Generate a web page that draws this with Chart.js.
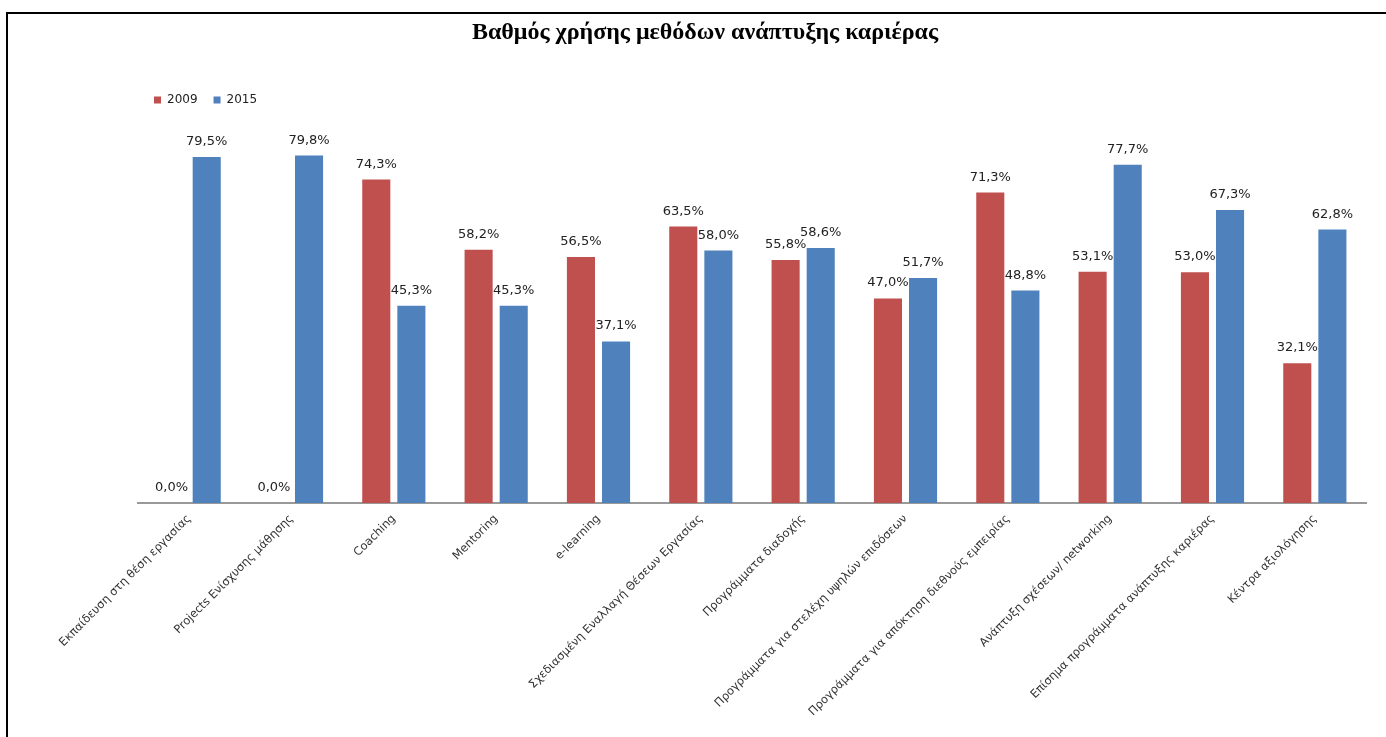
<!DOCTYPE html>
<html>
<head>
<meta charset="utf-8">
<script src="https://cdn.jsdelivr.net/npm/chart.js@4"></script>
<style>
  html, body { margin: 0; padding: 0; background: #fff; }
  #wrap { position: relative; width: 1386px; height: 737px; }
  #frame { position: absolute; left: 6px; top: 12px; width: 1400px; height: 800px;
           border-top: 2px solid #000; border-left: 2px solid #000; pointer-events: none; }
</style>
</head>
<body>
<div id="wrap">
  <canvas id="chart" width="1386" height="737"></canvas>
  <div id="frame"></div>
</div>
<script>
var chartTitle = 'Βαθμός χρήσης μεθόδων ανάπτυξης καριέρας';
var categories = [
    'Εκπαίδευση στη θέση εργασίας',
    'Projects Ενίσχυσης μάθησης',
    'Coaching',
    'Mentoring',
    'e-learning',
    'Σχεδιασμένη Εναλλαγή Θέσεων Εργασίας',
    'Προγράμματα διαδοχής',
    'Προγράμματα για στελέχη υψηλών επιδόσεων',
    'Προγράμματα για απόκτηση διεθνούς εμπειρίας',
    'Ανάπτυξη σχέσεων/ networking',
    'Επίσημα προγράμματα ανάπτυξης καριέρας',
    'Κέντρα αξιολόγησης'
];
var values2009 = [0.0, 0.0, 74.3, 58.2, 56.5, 63.5, 55.8, 47.0, 71.3, 53.1, 53.0, 32.1];
var values2015 = [79.5, 79.8, 45.3, 45.3, 37.1, 58.0, 58.6, 51.7, 48.8, 77.7, 67.3, 62.8];

// titre centré sur le cadre, pas sur la zone du graphique
var titlePlugin = {
    id: 'titlePlugin',
    afterDraw: function(chart) {
        var ctx = chart.ctx;
        ctx.save();
        ctx.font = 'bold 24px "Liberation Serif"';
        ctx.fillStyle = '#000';
        ctx.textAlign = 'center';
        ctx.textBaseline = 'middle';
        ctx.fillText(chartTitle, chart.width / 2 + 12, 33);
        ctx.restore();
    }
};

// étiquettes de valeur au-dessus des barres (virgule décimale)
var valueLabels = {
    id: 'valueLabels',
    afterDatasetsDraw: function(chart) {
        var ctx = chart.ctx;
        ctx.save();
        ctx.font = '13px "DejaVu Sans"';
        ctx.fillStyle = '#222';
        ctx.textAlign = 'center';
        ctx.textBaseline = 'alphabetic';
        chart.data.datasets.forEach(function(ds, i) {
            chart.getDatasetMeta(i).data.forEach(function(bar, j) {
                var txt = ds.data[j].toFixed(1).replace('.', ',') + '%';
                ctx.fillText(txt, bar.x, bar.y - 12);
            });
        });
        ctx.restore();
    }
};

new Chart(document.getElementById('chart'), {
    type: 'bar',
    data: {
        labels: categories,
        datasets: [
            { label: '2009', data: values2009, backgroundColor: '#C0504D',
              categoryPercentage: 0.686, barPercentage: 0.8 },
            { label: '2015', data: values2015, backgroundColor: '#4F81BD',
              categoryPercentage: 0.686, barPercentage: 0.8 }
        ]
    },
    options: {
        responsive: false,
        animation: false,
        layout: { padding: { left: 138, right: 20, top: 78, bottom: 0 } },
        plugins: {
            title: { display: false },
            legend: {
                position: 'top',
                align: 'start',
                labels: {
                    boxWidth: 7, boxHeight: 7, padding: 16, color: '#222',
                    font: { family: '"DejaVu Sans"', size: 12 }
                }
            },
            tooltip: { enabled: false }
        },
        scales: {
            x: {
                grid: { display: false },
                border: { color: '#999', width: 2 },
                ticks: {
                    minRotation: 45, maxRotation: 45, autoSkip: false,
                    color: '#333', padding: 1,
                    font: { family: '"DejaVu Sans"', size: 11.5 }
                },
                afterFit: function(scale) { scale.height = 234; }
            },
            y: {
                display: false,
                min: 0,
                max: 88.9
            }
        }
    },
    plugins: [titlePlugin, valueLabels]
});
</script>
</body>
</html>
